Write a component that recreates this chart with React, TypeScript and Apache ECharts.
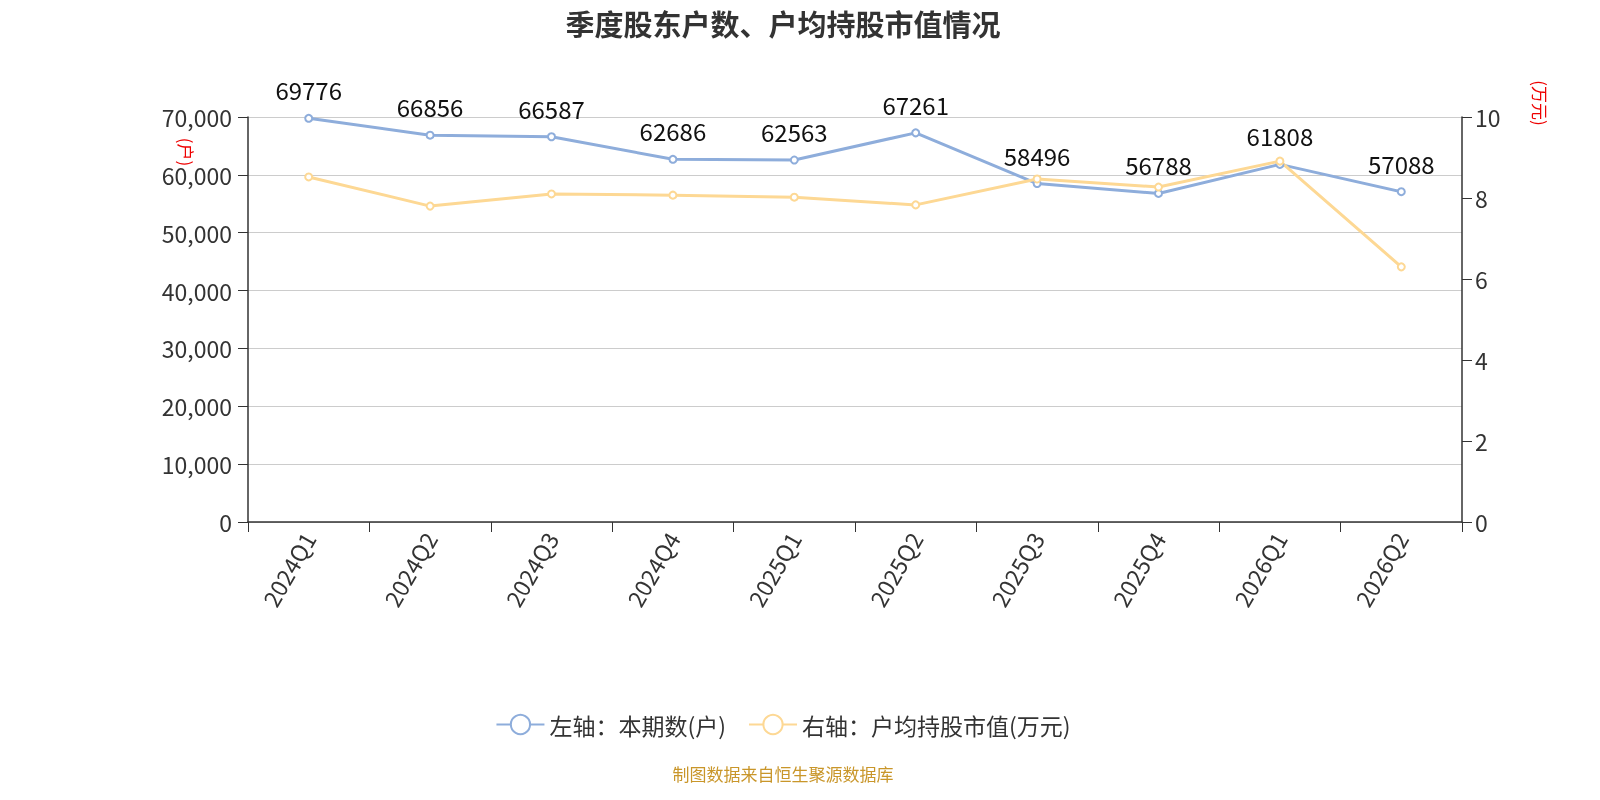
import React, { useEffect, useRef } from "react";
import * as echarts from "echarts";

const categories = ["2024Q1", "2024Q2", "2024Q3", "2024Q4", "2025Q1", "2025Q2", "2025Q3", "2025Q4", "2026Q1", "2026Q2"];
const holders = [69776, 66856, 66587, 62686, 62563, 67261, 58496, 56788, 61808, 57088];
const avgValue = [8.52, 7.8, 8.1, 8.07, 8.02, 7.83, 8.47, 8.27, 8.91, 6.3];
const leftName = "左轴：本期数(户)";
const rightName = "右轴：户均持股市值(万元)";
const FONT = "'Noto Sans CJK SC', 'Noto Sans', sans-serif";

export default function App() {
  const ref = useRef<HTMLDivElement>(null);
  useEffect(() => {
    document.body.style.margin = "0";
    document.body.style.overflow = "hidden";
    const chart = echarts.init(ref.current!, null, { renderer: "svg" });
    chart.setOption({
      animation: false,
      textStyle: { fontFamily: FONT },
      title: {
        text: "季度股东户数、户均持股市值情况",
        left: "center",
        top: 3,
        textStyle: { fontSize: 29, fontWeight: "bold", color: "#333", fontFamily: FONT },
      },
      legend: {
        top: 708,
        left: "center",
        itemWidth: 48,
        itemHeight: 24,
        itemGap: 22,
        textStyle: { fontSize: 23, color: "#333", fontFamily: FONT },
        data: [leftName, rightName],
      },
      graphic: [
        {
          type: "text",
          x: 783,
          y: 773,
          style: {
            text: "制图数据来自恒生聚源数据库",
            fontSize: 17,
            fill: "#c9962a",
            align: "center",
            verticalAlign: "middle",
            fontFamily: FONT,
          },
        },
        {
          type: "text",
          x: 186,
          y: 152,
          rotation: -Math.PI / 2,
          style: { text: "(户)", fontSize: 17, fill: "#e00", align: "center", verticalAlign: "middle", fontFamily: FONT },
        },
        {
          type: "text",
          x: 1540,
          y: 103,
          rotation: -Math.PI / 2,
          style: { text: "(万元)", fontSize: 17, fill: "#e00", align: "center", verticalAlign: "middle", fontFamily: FONT },
        },
      ],
      grid: { left: 248, right: 104, top: 117, bottom: 278, containLabel: false },
      xAxis: {
        type: "category",
        data: categories,
        boundaryGap: true,
        axisLine: { lineStyle: { color: "#333", width: 1.5 } },
        axisTick: { show: true, alignWithLabel: false, length: 10, lineStyle: { color: "#333" } },
        axisLabel: { rotate: 60, fontSize: 23, color: "#333", margin: 12, interval: 0 },
      },
      yAxis: [
        {
          type: "value",
          min: 0,
          max: 70000,
          interval: 10000,
          axisLine: { show: true, lineStyle: { color: "#333", width: 1.5 } },
          axisTick: { show: true, length: 10, lineStyle: { color: "#333" } },
          axisLabel: {
            fontSize: 23,
            color: "#333",
            margin: 16,
            formatter: (v: number) => v.toLocaleString("en-US"),
          },
          splitLine: { lineStyle: { color: "#ccc" } },
        },
        {
          type: "value",
          min: 0,
          max: 10,
          interval: 2,
          position: "right",
          axisLine: { show: true, lineStyle: { color: "#333", width: 1.5 } },
          axisTick: { show: true, length: 10, lineStyle: { color: "#333" } },
          axisLabel: { fontSize: 23, color: "#333", margin: 13 },
          splitLine: { show: false },
        },
      ],
      series: [
        {
          name: leftName,
          type: "line",
          yAxisIndex: 0,
          data: holders,
          symbol: "emptyCircle",
          symbolSize: 7,
          lineStyle: { width: 3, color: "#8eaddb" },
          itemStyle: { color: "#8eaddb" },
          label: { show: true, position: "top", fontSize: 24, color: "#111", distance: 12 },
        },
        {
          name: rightName,
          type: "line",
          yAxisIndex: 1,
          data: avgValue,
          symbol: "emptyCircle",
          symbolSize: 7,
          lineStyle: { width: 3, color: "#fdd894" },
          itemStyle: { color: "#fdd894" },
        },
      ],
    });
    return () => chart.dispose();
  }, []);
  return <div ref={ref} style={{ position: "fixed", left: 0, top: 0, width: 1566, height: 800 }} />;
}
